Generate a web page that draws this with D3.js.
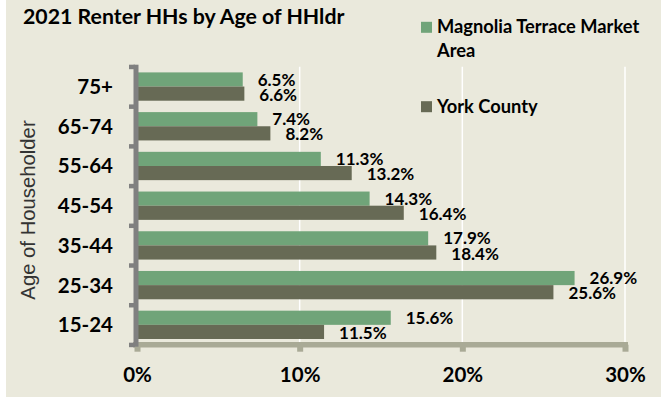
<!DOCTYPE html>
<html>
<head>
<meta charset="utf-8">
<script src="https://cdn.jsdelivr.net/npm/d3@7"></script>
<style>
  body { margin: 0; background: #ffffff; }
  text { font-family: Lato, "Open Sans", sans-serif; }
</style>
</head>
<body>
<svg id="chart" width="661" height="402"></svg>
<script>
// data, bottom to top as in the source sheet
const ageGroups = ["15-24", "25-34", "35-44", "45-54", "55-64", "65-74", "75+"];
const marketArea = [15.6, 26.9, 17.9, 14.3, 11.3, 7.4, 6.5];
const yorkCounty = [11.5, 25.6, 18.4, 16.4, 13.2, 8.2, 6.6];
const seriesNames = ["Magnolia Terrace Market Area", "York County"];
const xTicks = [0, 10, 20, 30];

const colors = ["#70a479", "#676a55"];

const svg = d3.select("#chart");

// chart background
svg.append("rect")
    .attr("x", 6).attr("y", 0)
    .attr("width", 655).attr("height", 397)
    .attr("fill", "#eae9dc");

const plot = { left: 137, right: 625, top: 66.7, bottom: 344.7 };

const x = d3.scaleLinear()
    .domain([0, 30])
    .range([plot.left, plot.right]);

// reversed so 75+ sits on top
const y = d3.scaleBand()
    .domain(ageGroups.slice().reverse())
    .range([plot.top, plot.bottom])
    .paddingInner(0.287)
    .paddingOuter(0.1435);

const barH = y.bandwidth() / 2;

// gridlines
svg.append("g")
    .selectAll("line")
    .data(xTicks.filter(d => d > 0))
    .enter().append("line")
    .attr("x1", d => x(d)).attr("x2", d => x(d))
    .attr("y1", plot.top).attr("y2", plot.bottom - 2)
    .attr("stroke", "#ffffff")
    .attr("stroke-width", 1.5);

const rows = ageGroups.map((g, i) => ({ group: g, values: [marketArea[i], yorkCounty[i]] }));

const grp = svg.append("g")
    .selectAll("g")
    .data(rows)
    .enter().append("g")
    .attr("transform", d => `translate(0,${y(d.group)})`);

grp.selectAll("rect")
    .data(d => d.values)
    .enter().append("rect")
    .attr("x", x(0))
    .attr("y", (d, i) => i * barH)
    .attr("width", d => x(d) - x(0))
    .attr("height", barH)
    .attr("fill", (d, i) => colors[i]);

grp.selectAll("text")
    .data(d => d.values)
    .enter().append("text")
    .attr("x", d => x(d) + 15)
    .attr("y", (d, i) => (i + 1) * barH - (i === 0 ? 1 : 0))
    .style("font-size", "17px")
    .style("font-weight", "bold")
    .style("fill", "#000")
    .text(d => d.toFixed(1) + "%");

// x axis: thick line + small square ticks
const xAxis = svg.append("g")
    .attr("transform", `translate(0,${plot.bottom})`)
    .call(d3.axisBottom(x).tickValues(xTicks).tickFormat(d => d + "%").tickSize(7).tickPadding(16));
xAxis.select(".domain").remove();
xAxis.selectAll(".tick line")
    .attr("stroke", "#a9aa96")
    .attr("stroke-width", 6);
xAxis.selectAll(".tick text")
    .style("font-family", "Lato, sans-serif")
    .style("font-size", "20.5px")
    .style("font-weight", "bold")
    .style("fill", "#000");
xAxis.append("rect")
    .attr("x", plot.left - 4).attr("y", -2.7)
    .attr("width", plot.right - plot.left + 7)
    .attr("height", 5.5)
    .attr("fill", "#a9aa96");

// y axis: thick grey line with stubby ticks on band edges
const yAxis = svg.append("g");
yAxis.selectAll("rect.tk")
    .data(ageGroups.map(g => y(g) - y.step() * y.paddingInner() / 2).concat([plot.bottom]))
    .enter().append("rect")
    .attr("class", "tk")
    .attr("x", 129).attr("y", d => d - 2)
    .attr("width", 6).attr("height", 4.5)
    .attr("fill", "#808080");
yAxis.append("rect")
    .attr("x", 133.5).attr("y", plot.top - 2)
    .attr("width", 5).attr("height", plot.bottom - plot.top + 4)
    .attr("fill", "#808080");

// category labels
svg.append("g")
    .selectAll("text")
    .data(ageGroups)
    .enter().append("text")
    .attr("x", 113)
    .attr("y", d => y(d) + y.bandwidth() / 2)
    .attr("dy", "0.36em")
    .attr("text-anchor", "end")
    .style("font-size", "20.5px")
    .style("font-weight", "bold")
    .text(d => d);

// axis title
svg.append("text")
    .attr("transform", "translate(34.5,210) rotate(-90)")
    .attr("text-anchor", "middle")
    .style("font-family", "'Liberation Sans', Arial, sans-serif")
    .style("font-size", "20.3px")
    .style("fill", "#333")
    .text("Age of Householder");

// title
svg.append("text")
    .attr("x", 23).attr("y", 24)
    .style("font-size", "21.3px")
    .style("font-weight", "bold")
    .text("2021 Renter HHs by Age of HHldr");

// legend
const legend = svg.append("g").attr("transform", "translate(421,0)");
const legendRows = [
    { lines: ["Magnolia Terrace Market", "Area"], y: 33.3 },
    { lines: ["York County"], y: 112.7 }
];
legendRows.forEach((r, i) => {
    legend.append("rect")
        .attr("x", 0).attr("y", r.y - 11.5)
        .attr("width", 11).attr("height", 11)
        .attr("fill", colors[i]);
    const t = legend.append("text")
        .attr("x", 16).attr("y", r.y)
        .style("font-size", "18.3px")
        .style("font-weight", "bold");
    r.lines.forEach((ln, j) => {
        t.append("tspan").attr("x", 16).attr("dy", j === 0 ? 0 : 24).text(ln);
    });
});
</script>
</body>
</html>
